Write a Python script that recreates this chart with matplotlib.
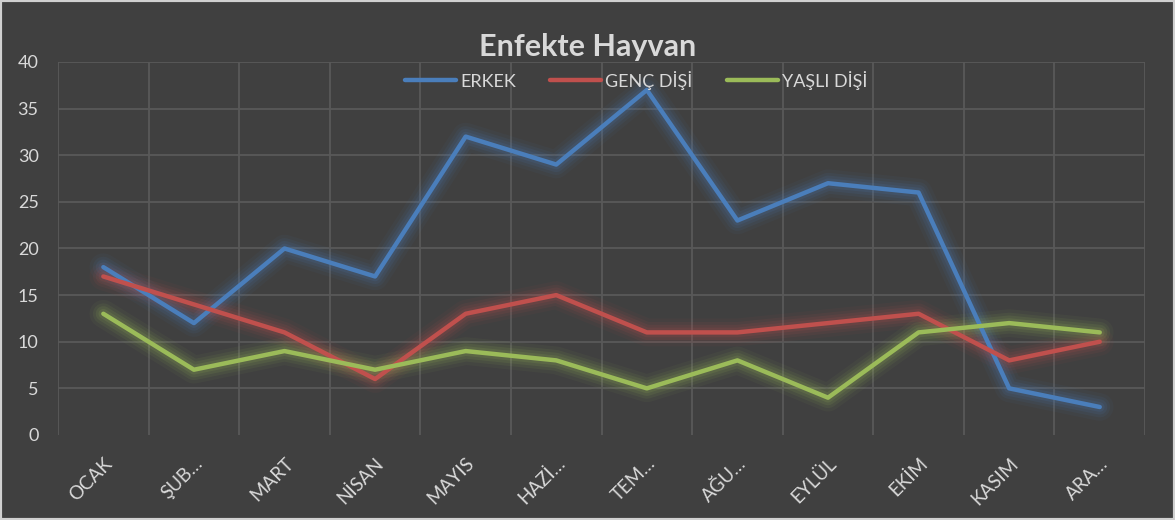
import matplotlib
matplotlib.use("Agg")
import matplotlib.pyplot as plt
from matplotlib.patches import Rectangle

months = ["OCAK", "ŞUB…", "MART", "NİSAN", "MAYIS", "HAZİ…",
          "TEM…", "AĞU…", "EYLÜL", "EKİM", "KASIM", "ARA…"]
erkek = [18, 12, 20, 17, 32, 29, 37, 23, 27, 26, 5, 3]
genc_disi = [17, 14, 11, 6, 13, 15, 11, 11, 12, 13, 8, 10]
yasli_disi = [13, 7, 9, 7, 9, 8, 5, 8, 4, 11, 12, 11]

series = [
    ("ERKEK", erkek, "#4a7ebb"),
    ("GENÇ DİŞİ", genc_disi, "#c0504d"),
    ("YAŞLI DİŞİ", yasli_disi, "#9bbb59"),
]

BG = "#404040"
TXT = "#d9d9d9"
GRID = "#595959"

plt.rcParams["font.family"] = ["Lato", "DejaVu Sans"]

fig = plt.figure(figsize=(11.75, 5.2), dpi=100, facecolor=BG)
ax = fig.add_axes([0.0494, 0.1635, 0.9251, 0.7173])
ax.set_facecolor(BG)

x = list(range(len(months)))
for name, vals, color in series:
    # soft glow around each line
    for w, a in [(20, 0.05), (15, 0.08), (11, 0.10), (7, 0.13)]:
        ax.plot(x, vals, color=color, linewidth=w, alpha=a,
                solid_capstyle="round", solid_joinstyle="round", zorder=2)
    ax.plot(x, vals, color=color, linewidth=3.2, label=name,
            solid_capstyle="round", zorder=3)

ax.set_xlim(-0.5, len(months) - 0.5)
ax.set_ylim(0, 40)
ax.set_yticks(range(0, 41, 5))
ax.set_xticks(x)
ax.set_xticklabels(months, rotation=45, ha="right", rotation_mode="anchor",
                   fontsize=13.5)

# vertical grid between categories, horizontal grid at major ticks
for b in [i - 0.5 for i in range(len(months) + 1)]:
    ax.axvline(b, color=GRID, linewidth=1.3, zorder=1)
for yv in range(5, 41, 5):
    ax.axhline(yv, color=GRID, linewidth=1.3, zorder=1)

for s in ax.spines.values():
    s.set_visible(False)
ax.tick_params(axis="both", length=0, colors=TXT)
ax.tick_params(axis="x", pad=14)
ax.tick_params(axis="y", pad=14, labelsize=13)
for lbl in ax.get_yticklabels():
    lbl.set_color(TXT)

fig.text(0.5, 0.91, "Enfekte Hayvan", ha="center", va="center",
         fontsize=22, fontweight="bold", color=TXT)

leg = ax.legend(loc="upper center", bbox_to_anchor=(0.532, 1.02), ncol=3,
                frameon=False, fontsize=13, handlelength=2.8,
                columnspacing=1.9, handletextpad=0.25)
for t in leg.get_texts():
    t.set_color(TXT)
for h in leg.get_lines():
    h.set_linewidth(3.2)

fig.add_artist(Rectangle((0, 0), 1, 1, transform=fig.transFigure,
                         fill=False, edgecolor="#d0d0d0", linewidth=3))

fig.savefig("out.png", dpi=100, facecolor=BG)
